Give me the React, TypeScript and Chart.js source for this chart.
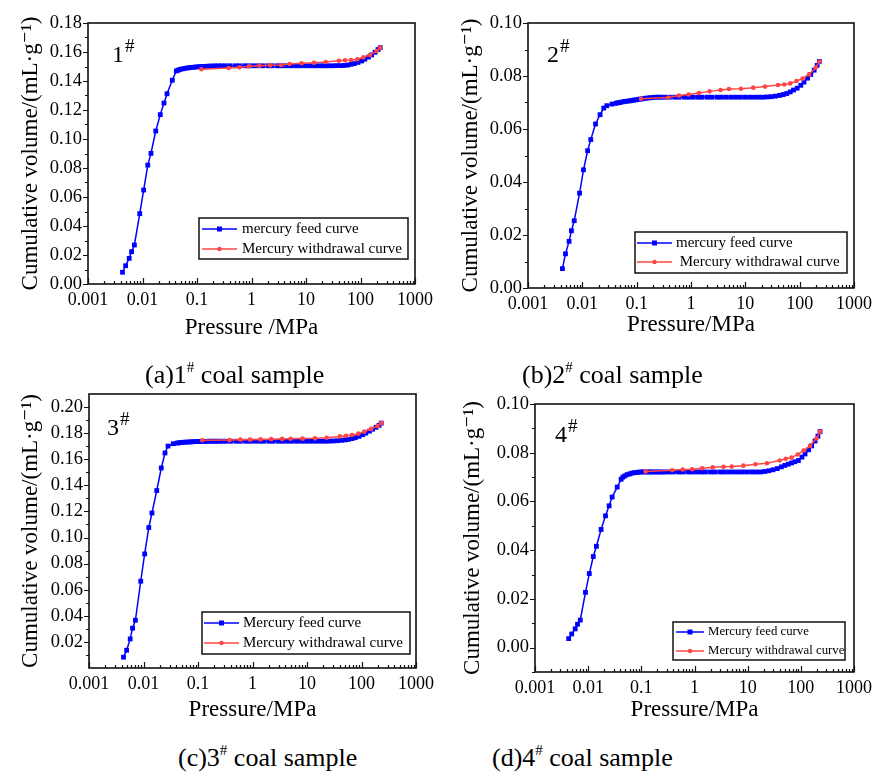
import React, { useEffect, useRef } from 'react';
import { Chart, registerables } from 'chart.js';

Chart.register(...registerables);

const FONT = '"Liberation Serif", "Times New Roman", "DejaVu Serif", serif';
const BLUE = '#0000ff';
const RED = '#ff4545';

// ---- shared axis tick values ----
const X_DECADES = [0.001, 0.01, 0.1, 1, 10, 100, 1000];
const X_LABELS = ['0.001', '0.01', '0.1', '1', '10', '100', '1000'];

// ---- pressures (MPa) ----
const FEED_P = [
  0.0043, 0.0049, 0.0057, 0.0063, 0.0071, 0.0089, 0.0105, 0.0125, 0.0143, 0.0175, 0.0212, 0.0248, 0.0282, 0.0352, 0.0417,
  0.045, 0.049, 0.054, 0.06, 0.066, 0.073, 0.08, 0.088, 0.097, 0.107, 0.118, 0.13, 0.145, 0.16, 0.18, 0.2, 0.22, 0.25, 0.28, 0.33,
  0.4, 0.5, 0.6, 0.75, 0.9, 1.1, 1.35, 1.6, 2.0, 2.4, 3.0, 3.6, 4.4, 5.4, 6.6, 8.0, 9.8, 12, 14.5, 17.5, 21, 25, 30,
  36, 43, 50, 58, 67, 77, 90, 105, 120, 140, 160, 185, 210, 230,
];
const WITHDRAW_P = [230, 198, 149, 113, 87.5, 67, 52, 40, 23, 14, 8.3, 5.0, 3.5, 2.2, 1.4, 0.9, 0.6, 0.38, 0.12];

// ---- sample 1# ----
const A_FEED = [
  0.0081, 0.0126, 0.0177, 0.0223, 0.0269, 0.0485, 0.0648, 0.082, 0.0901, 0.1055, 0.1168, 0.1248, 0.1312, 0.1405, 0.1469,
  0.1475, 0.148, 0.1484, 0.1487, 0.149, 0.1492, 0.1494, 0.1495, 0.1497, 0.1498, 0.1499, 0.15, 0.1501, 0.1502, 0.1503, 0.1503, 0.1504, 0.1504, 0.1504, 0.1505,
  0.1505, 0.1505, 0.1505, 0.1505, 0.1505, 0.1505, 0.1505, 0.1505, 0.1505, 0.1505, 0.1505, 0.1505, 0.1505, 0.1505, 0.1505, 0.1505, 0.1505, 0.1505, 0.1505, 0.1505, 0.1505, 0.1505, 0.1505,
  0.1506, 0.1506, 0.1507, 0.151, 0.1515, 0.152, 0.1528, 0.1538, 0.155, 0.1565, 0.158, 0.1598, 0.1617, 0.163,
];
const A_WITHDRAW = [0.163, 0.1607, 0.1579, 0.1563, 0.155, 0.1545, 0.1543, 0.154, 0.1531, 0.1526, 0.1522, 0.1517, 0.151, 0.1508, 0.1506, 0.1501, 0.1494, 0.149, 0.1481];
const A_Y_TICKS = [0, 0.02, 0.04, 0.06, 0.08, 0.1, 0.12, 0.14, 0.16, 0.18];
const A_Y_MINOR = [0.01, 0.03, 0.05, 0.07, 0.09, 0.11, 0.13, 0.15, 0.17];

// ---- sample 2# ----
const B_FEED = [
  0.0073, 0.0129, 0.0176, 0.0216, 0.0254, 0.0358, 0.0446, 0.0518, 0.056, 0.0619, 0.0654, 0.0679, 0.0688, 0.0694, 0.0697,
  0.0699, 0.07, 0.0702, 0.0704, 0.0705, 0.0706, 0.0707, 0.0709, 0.071, 0.0712, 0.0713, 0.0714, 0.0716, 0.0717, 0.0718, 0.0719, 0.072, 0.072, 0.072, 0.072,
  0.072, 0.072, 0.072, 0.072, 0.072, 0.072, 0.072, 0.072, 0.072, 0.072, 0.072, 0.072, 0.072, 0.072, 0.072, 0.072, 0.072, 0.072, 0.072, 0.072, 0.072, 0.0721, 0.0722,
  0.0724, 0.0727, 0.073, 0.0734, 0.074, 0.0747, 0.0754, 0.0765, 0.0777, 0.0792, 0.0806, 0.0822, 0.084, 0.0855,
];
const B_WITHDRAW = [0.0855, 0.0832, 0.0806, 0.079, 0.0781, 0.0772, 0.0768, 0.0766, 0.076, 0.0756, 0.0752, 0.0751, 0.0747, 0.0742, 0.0736, 0.073, 0.0726, 0.0719, 0.0714];
const B_Y_TICKS = [0, 0.02, 0.04, 0.06, 0.08, 0.1];
const B_Y_MINOR = [0.01, 0.03, 0.05, 0.07, 0.09];

// ---- sample 3# ----
const C_FEED = [
  0.0083, 0.0136, 0.0223, 0.0305, 0.0366, 0.0665, 0.0874, 0.1076, 0.1188, 0.136, 0.1533, 0.1648, 0.1701, 0.1719, 0.1724,
  0.1726, 0.1728, 0.173, 0.1731, 0.1732, 0.1733, 0.1734, 0.1735, 0.1736, 0.1736, 0.1737, 0.1737, 0.1737, 0.1738, 0.1738, 0.1738, 0.1738, 0.1738, 0.1738, 0.1738,
  0.1738, 0.1738, 0.1738, 0.1738, 0.1738, 0.1738, 0.1738, 0.1738, 0.1738, 0.1738, 0.1738, 0.1738, 0.1738, 0.1738, 0.1738, 0.1738, 0.1738, 0.1738, 0.1738, 0.1738, 0.1738, 0.1739, 0.174,
  0.1742, 0.1745, 0.1748, 0.1752, 0.1758, 0.1765, 0.1775, 0.1788, 0.18, 0.1815, 0.183, 0.1845, 0.186, 0.1877,
];
const C_WITHDRAW = [0.1877, 0.1855, 0.1832, 0.1812, 0.1796, 0.1786, 0.178, 0.1775, 0.1765, 0.176, 0.1758, 0.1757, 0.1756, 0.1754, 0.1752, 0.175, 0.175, 0.1748, 0.1745];
const C_Y_TICKS = [0.02, 0.04, 0.06, 0.08, 0.1, 0.12, 0.14, 0.16, 0.18, 0.2];
const C_Y_MINOR = [0.01, 0.03, 0.05, 0.07, 0.09, 0.11, 0.13, 0.15, 0.17, 0.19];

// ---- sample 4# ----
const D_FEED = [
  0.0037, 0.0056, 0.0077, 0.0096, 0.0113, 0.0227, 0.0304, 0.0374, 0.0416, 0.0485, 0.0541, 0.0582, 0.0618, 0.0659, 0.0691,
  0.07, 0.0705, 0.071, 0.0713, 0.0716, 0.0718, 0.0719, 0.072, 0.0721, 0.0721, 0.0721, 0.0721, 0.0721, 0.0721, 0.0721, 0.0721, 0.0721, 0.0721, 0.0721, 0.0721,
  0.0721, 0.0721, 0.0721, 0.0721, 0.0721, 0.0721, 0.0721, 0.0721, 0.0721, 0.0721, 0.0721, 0.0721, 0.0721, 0.0721, 0.0721, 0.0721, 0.0721, 0.0721, 0.0721, 0.0721, 0.0723, 0.0726, 0.073,
  0.0735, 0.0742, 0.0748, 0.0753, 0.0758, 0.0763, 0.0768, 0.0782, 0.0795, 0.0812, 0.0828, 0.0848, 0.0868, 0.0887,
];
const D_WITHDRAW = [0.0887, 0.0859, 0.0828, 0.0809, 0.0793, 0.078, 0.0775, 0.0768, 0.0757, 0.0753, 0.0747, 0.0743, 0.0742, 0.074, 0.0736, 0.0732, 0.0731, 0.0728, 0.0723];
const D_Y_TICKS = [0, 0.02, 0.04, 0.06, 0.08, 0.1];
const D_Y_MINOR = [-0.01, 0.01, 0.03, 0.05, 0.07, 0.09];

const Y_TITLE = 'Cumulative volume/(mL\u00b7g\u207b\u00b9)';

type Panel = {
  key: string;
  left: number; top: number; w: number; h: number;
  yMin: number; yMax: number; yTicks: number[]; yMinor: number[];
  feed: number[]; withdraw: number[];
  padTop: number; padRight: number; yW: number; xH: number;
  yTitlePad: number; xTitlePad: number; xTitle: string;
  sample: string; sampleDx: number; sampleDy: number;
  legend: { x: number; y: number; w: number; h: number; r1: number; r2: number; l0: number; l1: number; tx: number; font: number; t1: string; t2: string };
};

const PANELS: Panel[] = [
  {
    key: 'a', left: 0, top: 0, w: 440, h: 345,
    yMin: 0, yMax: 0.18, yTicks: A_Y_TICKS, yMinor: A_Y_MINOR, feed: A_FEED, withdraw: A_WITHDRAW,
    padTop: 23, padRight: 25, yW: 88, xH: 61, yTitlePad: 17, xTitlePad: 3, xTitle: 'Pressure /MPa',
    sample: '1', sampleDx: 24, sampleDy: 39,
    legend: { x: 199, y: 218, w: 209, h: 41, r1: 229, r2: 249, l0: 202, l1: 237, tx: 242, font: 15, t1: 'mercury feed curve', t2: 'Mercury withdrawal curve' },
  },
  {
    key: 'b', left: 440, top: 0, w: 437, h: 345,
    yMin: 0, yMax: 0.1, yTicks: B_Y_TICKS, yMinor: B_Y_MINOR, feed: B_FEED, withdraw: B_WITHDRAW,
    padTop: 23, padRight: 20, yW: 88, xH: 57, yTitlePad: 17, xTitlePad: 6, xTitle: 'Pressure/MPa',
    sample: '2', sampleDx: 19, sampleDy: 39,
    legend: { x: 195, y: 232, w: 212, h: 41, r1: 243, r2: 262, l0: 197, l1: 232, tx: 236, font: 15, t1: 'mercury feed curve', t2: ' Mercury withdrawal curve' },
  },
  {
    key: 'c', left: 0, top: 370, w: 440, h: 360,
    yMin: 0, yMax: 0.21, yTicks: C_Y_TICKS, yMinor: C_Y_MINOR, feed: C_FEED, withdraw: C_WITHDRAW,
    padTop: 24, padRight: 24, yW: 89, xH: 62, yTitlePad: 17, xTitlePad: 6, xTitle: 'Pressure/MPa',
    sample: '3', sampleDx: 18, sampleDy: 41,
    legend: { x: 202, y: 242, w: 208, h: 42, r1: 253, r2: 273, l0: 204, l1: 239, tx: 243, font: 15, t1: 'Mercury feed curve', t2: 'Mercury withdrawal curve' },
  },
  {
    key: 'd', left: 440, top: 370, w: 437, h: 360,
    yMin: -0.01, yMax: 0.1, yTicks: D_Y_TICKS, yMinor: D_Y_MINOR, feed: D_FEED, withdraw: D_WITHDRAW,
    padTop: 34, padRight: 20, yW: 95, xH: 58, yTitlePad: 19, xTitlePad: 6, xTitle: 'Pressure/MPa',
    sample: '4', sampleDx: 20, sampleDy: 38,
    legend: { x: 233, y: 252, w: 172, h: 38, r1: 262, r2: 281, l0: 236, l1: 264, tx: 268, font: 12.8, t1: 'Mercury feed curve', t2: 'Mercury withdrawal curve' },
  },
];

const decorPlugin = {
  id: 'decor',
  afterDatasetsDraw(chart: any, _args: any, opts: any) {
    const p: Panel = opts.panel;
    if (!p) return;
    const { ctx, chartArea: ca, scales } = chart;
    const xs = scales.x;
    const ys = scales.y;
    ctx.save();
    // frame
    ctx.strokeStyle = '#111';
    ctx.lineWidth = 1.6;
    ctx.strokeRect(ca.left, ca.top, ca.right - ca.left, ca.bottom - ca.top);
    // ticks
    ctx.lineWidth = 1.2;
    ctx.beginPath();
    X_DECADES.forEach((d, i) => {
      const px = Math.round(xs.getPixelForValue(d)) + 0.5;
      ctx.moveTo(px, ca.bottom);
      ctx.lineTo(px, ca.bottom - 6);
      if (i < X_DECADES.length - 1) {
        for (let m = 2; m <= 9; m++) {
          const q = Math.round(xs.getPixelForValue(d * m)) + 0.5;
          ctx.moveTo(q, ca.bottom);
          ctx.lineTo(q, ca.bottom - 3);
        }
      }
    });
    p.yTicks.forEach((v) => {
      const py = Math.round(ys.getPixelForValue(v)) + 0.5;
      ctx.moveTo(ca.left, py);
      ctx.lineTo(ca.left - 5, py);
    });
    p.yMinor.forEach((v) => {
      const py = Math.round(ys.getPixelForValue(v)) + 0.5;
      ctx.moveTo(ca.left, py);
      ctx.lineTo(ca.left - 3, py);
    });
    ctx.stroke();

    // sample label
    ctx.fillStyle = '#000';
    ctx.textBaseline = 'alphabetic';
    ctx.textAlign = 'left';
    ctx.font = `24px ${FONT}`;
    const sx = ca.left + p.sampleDx;
    const sy = ca.top + p.sampleDy;
    ctx.fillText(p.sample, sx, sy);
    const sw = ctx.measureText(p.sample).width;
    ctx.font = `19px ${FONT}`;
    ctx.fillText('#', sx + sw + 1, sy - 10);

    // legend
    const L = p.legend;
    ctx.fillStyle = '#fff';
    ctx.fillRect(L.x, L.y, L.w, L.h);
    ctx.strokeStyle = '#111';
    ctx.lineWidth = 1.5;
    ctx.strokeRect(L.x, L.y, L.w, L.h);
    const mid = (L.l0 + L.l1) / 2;
    // feed row
    ctx.strokeStyle = BLUE;
    ctx.lineWidth = 1.5;
    ctx.beginPath();
    ctx.moveTo(L.l0, L.r1);
    ctx.lineTo(L.l1, L.r1);
    ctx.stroke();
    ctx.fillStyle = BLUE;
    ctx.fillRect(mid - 2.5, L.r1 - 2.5, 5, 5);
    // withdrawal row
    ctx.strokeStyle = RED;
    ctx.beginPath();
    ctx.moveTo(L.l0, L.r2);
    ctx.lineTo(L.l1, L.r2);
    ctx.stroke();
    ctx.fillStyle = RED;
    ctx.beginPath();
    ctx.arc(mid, L.r2, 2.2, 0, Math.PI * 2);
    ctx.fill();
    ctx.fillStyle = '#000';
    ctx.font = `${L.font}px ${FONT}`;
    ctx.textBaseline = 'middle';
    ctx.fillText(L.t1, L.tx, L.r1);
    ctx.fillText(L.t2, L.tx, L.r2);
    ctx.restore();
  },
};

function PanelChart({ p }: { p: Panel }) {
  const ref = useRef<HTMLCanvasElement | null>(null);
  useEffect(() => {
    if (!ref.current) return;
    const feedData = FEED_P.map((x, i) => ({ x, y: p.feed[i] }));
    const wData = WITHDRAW_P.map((x, i) => ({ x, y: p.withdraw[i] }));
    const chart = new Chart(ref.current, {
      type: 'line',
      data: {
        datasets: [
          {
            label: 'feed',
            data: feedData,
            borderColor: BLUE,
            backgroundColor: BLUE,
            borderWidth: 1.5,
            pointStyle: 'rect',
            pointRadius: 3.4,
            pointBorderWidth: 0,
            tension: 0,
            order: 2,
          },
          {
            label: 'withdraw',
            data: wData,
            borderColor: RED,
            backgroundColor: RED,
            borderWidth: 1.5,
            pointStyle: 'circle',
            pointRadius: 2.3,
            pointBorderWidth: 0,
            tension: 0,
            order: 1,
          },
        ],
      },
      options: {
        responsive: false,
        animation: false,
        devicePixelRatio: 1,
        layout: { padding: { top: p.padTop, right: p.padRight, left: 0, bottom: 0 } },
        plugins: {
          legend: { display: false },
          tooltip: { enabled: false },
          decor: { panel: p },
        } as any,
        scales: {
          x: {
            type: 'logarithmic',
            min: 0.001,
            max: 1000,
            grid: { display: false, drawTicks: false },
            border: { display: false },
            afterBuildTicks: (scale: any) => {
              scale.ticks = X_DECADES.map((v) => ({ value: v }));
            },
            afterFit: (scale: any) => {
              scale.height = p.xH;
            },
            ticks: {
              autoSkip: false,
              maxRotation: 0,
              padding: 5,
              color: '#000',
              font: { family: FONT, size: 18 },
              callback: (_v: any, i: number) => X_LABELS[i],
            },
            title: {
              display: true,
              text: p.xTitle,
              color: '#000',
              font: { family: FONT, size: 23 },
              padding: { top: 0, bottom: p.xTitlePad },
            },
          },
          y: {
            type: 'linear',
            min: p.yMin,
            max: p.yMax,
            grid: { display: false, drawTicks: false },
            border: { display: false },
            afterBuildTicks: (scale: any) => {
              scale.ticks = p.yTicks.map((v) => ({ value: v }));
            },
            afterFit: (scale: any) => {
              scale.width = p.yW;
            },
            ticks: {
              autoSkip: false,
              padding: 6,
              color: '#000',
              font: { family: FONT, size: 18.5 },
              callback: (v: any) => Number(v).toFixed(2),
            },
            title: {
              display: true,
              text: Y_TITLE,
              color: '#000',
              font: { family: FONT, size: 23 },
              padding: { top: p.yTitlePad, bottom: 0 },
            },
          },
        },
      } as any,
      plugins: [decorPlugin],
    });
    return () => chart.destroy();
  }, [p]);
  return (
    <canvas
      ref={ref}
      width={p.w}
      height={p.h}
      style={{ position: 'absolute', left: p.left, top: p.top, width: p.w, height: p.h, display: 'block' }}
    />
  );
}

const CAPTIONS = [
  { pre: '(a)1', left: 145, top: 362 },
  { pre: '(b)2', left: 522, top: 362 },
  { pre: '(c)3', left: 178, top: 745 },
  { pre: '(d)4', left: 492, top: 745 },
];

export default function App() {
  return (
    <div style={{ position: 'absolute', left: 0, top: 0, width: 877, height: 774, background: '#fff', overflow: 'hidden' }}>
      {PANELS.map((p) => (
        <PanelChart key={p.key} p={p} />
      ))}
      {CAPTIONS.map((c, i) => (
        <div
          key={i}
          style={{
            position: 'absolute',
            left: c.left,
            top: c.top,
            fontFamily: FONT,
            fontSize: 26,
            lineHeight: '26px',
            whiteSpace: 'nowrap',
            color: '#000',
          }}
        >
          {c.pre}
          <span style={{ fontSize: 15, position: 'relative', top: -11 }}>#</span> coal sample
        </div>
      ))}
    </div>
  );
}
